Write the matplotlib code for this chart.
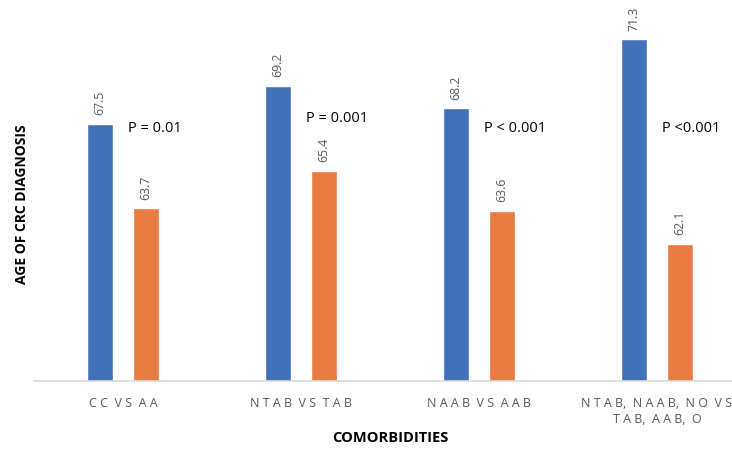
import matplotlib.pyplot as plt

# Age at CRC diagnosis by comorbidity group
categories = ['C C  V S  A A', 'N T A B  V S  T A B', 'N A A B  V S  A A B',
              'N T A B,  N A A B,  N O  V S\nT A B,  A A B,  O']
group_a = [67.5, 69.2, 68.2, 71.3]
group_b = [63.7, 65.4, 63.6, 62.1]
p_values = ['P = 0.01', 'P = 0.001', 'P < 0.001', 'P <0.001']
p_heights = [67.35, 67.8, 67.35, 67.35]

blue = '#4271BA'
orange = '#E87B42'
grey = '#595959'

plt.rcParams['font.family'] = ['Open Sans', 'DejaVu Sans']

fig = plt.figure(figsize=(7.32, 4.5), dpi=100)
# the plot area runs a little past the right edge of the figure
ax = fig.add_axes([34 / 732, 69.3 / 450, 712 / 732, 355.8 / 450])

x = list(range(len(categories)))
w = 0.135
off = 0.13
bars_a = ax.bar([i - off for i in x], group_a, width=w, color=blue, edgecolor='#5A86CF', linewidth=0.6)
bars_b = ax.bar([i + off for i in x], group_b, width=w, color=orange, edgecolor='#F08C54', linewidth=0.6)

for bars, vals in ((bars_a, group_a), (bars_b, group_b)):
    for b, v in zip(bars, vals):
        ax.annotate(f'{v:.1f}', (b.get_x() + b.get_width() / 2, v), xytext=(0, 7),
                    textcoords='offset points', rotation=90, ha='center', va='bottom',
                    fontsize=8.8, color=grey)

for i, (p, h) in enumerate(zip(p_values, p_heights)):
    ax.text(i + 0.03, h, p, fontsize=10.5, color='black', ha='left', va='center')

ax.set_xlim(-0.5, 3.5)
ax.set_ylim(56, 72)
ax.set_xticks(x)
ax.set_xticklabels(categories, fontsize=9, color=grey, linespacing=1.3)
ax.tick_params(axis='x', length=0, pad=12)
ax.set_yticks([])

for side in ('top', 'right', 'left'):
    ax.spines[side].set_visible(False)
ax.spines['bottom'].set_color('#D9D9D9')
ax.spines['bottom'].set_linewidth(1.2)

fig.text(390 / 732, 1 - 438 / 450, 'COMORBIDITIES', fontsize=10.5, fontweight='bold',
         ha='center', va='center')
fig.text(22 / 732, 1 - 204 / 450, 'AGE OF CRC DIAGNOSIS', rotation=90, fontsize=10,
         fontweight='bold', ha='center', va='center')

fig.savefig('out.png', dpi=100)
